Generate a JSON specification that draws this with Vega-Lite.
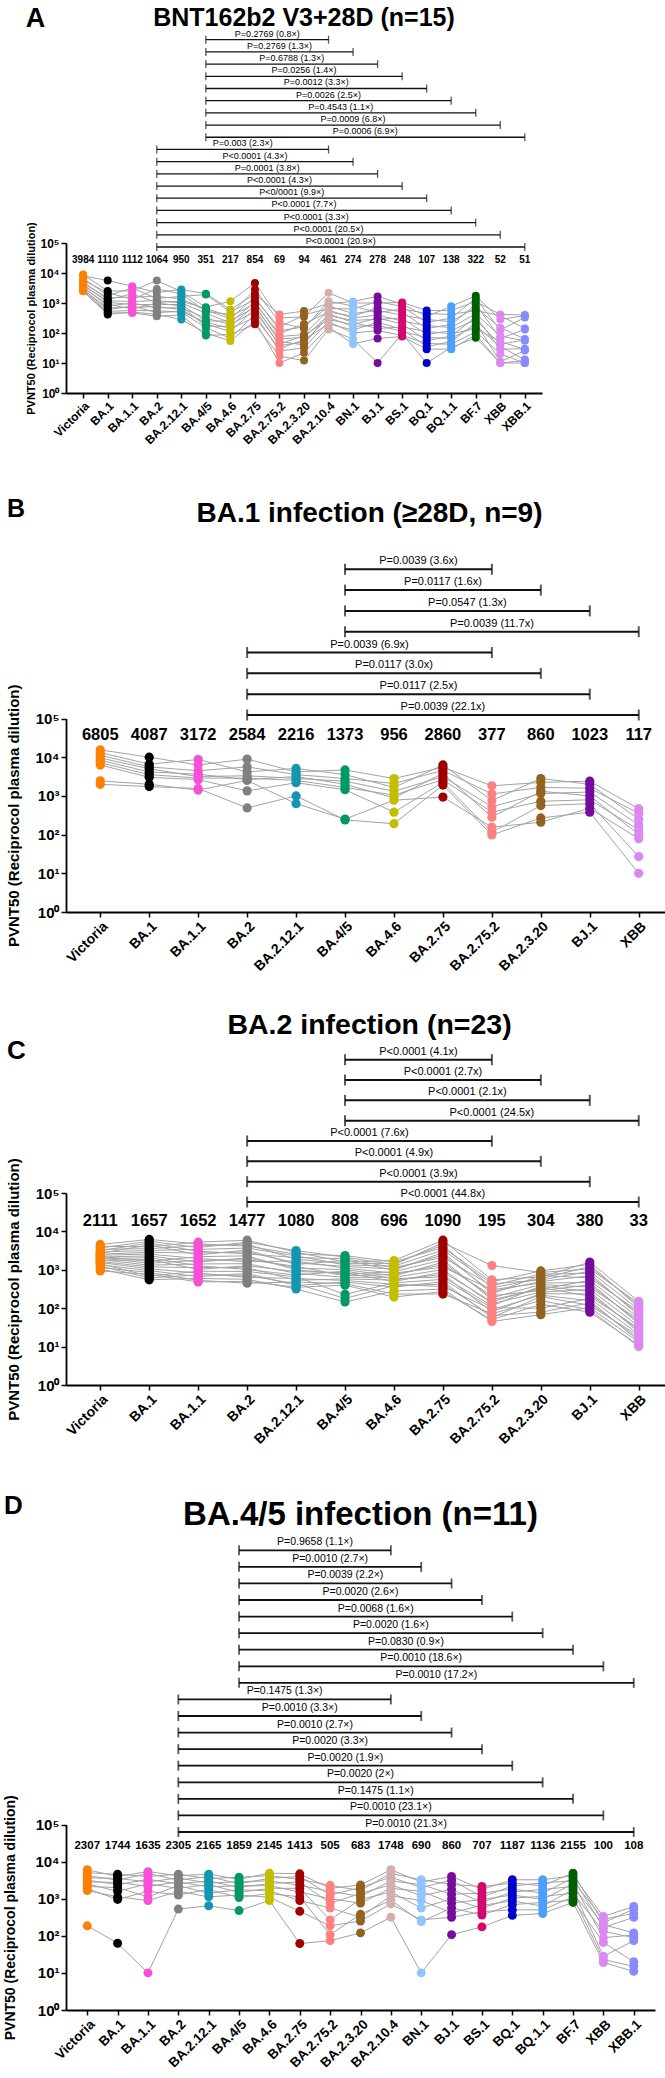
{
"$schema":"https://vega.github.io/schema/vega-lite/v6.json",
"background":"white",
"padding":{"left":3,"top":5,"right":0,"bottom":0},
"config":{"view":{"stroke":null},"font":"Liberation Sans",
"axis":{"domainColor":"#000","domainWidth":1.8,"tickColor":"#000","tickWidth":1.5,"tickSize":5,"labelColor":"#000","titleColor":"#000","grid":false,"labelFontWeight":"bold","titleFontWeight":"bold","labelFont":"Liberation Sans","titleFont":"Liberation Sans"},
"title":{"font":"Liberation Sans","fontWeight":"bold","color":"#000"},
"text":{"font":"Liberation Sans","color":"#000"}},
"datasets":{
"pA":[
{"s":1,"v":"Victoria","p":8913},{"s":2,"v":"Victoria","p":7943},{"s":3,"v":"Victoria","p":6607},{"s":4,"v":"Victoria","p":5623},{"s":5,"v":"Victoria","p":5012},{"s":6,"v":"Victoria","p":4571},{"s":7,"v":"Victoria","p":4169},{"s":8,"v":"Victoria","p":3802},{"s":9,"v":"Victoria","p":3467},{"s":10,"v":"Victoria","p":3162},{"s":11,"v":"Victoria","p":2884},{"s":12,"v":"Victoria","p":2692},{"s":13,"v":"Victoria","p":2570},{"s":14,"v":"Victoria","p":2512},{"s":15,"v":"Victoria","p":2455},
{"s":1,"v":"BA.1","p":2512},{"s":2,"v":"BA.1","p":5623},{"s":3,"v":"BA.1","p":1778},{"s":4,"v":"BA.1","p":2239},{"s":5,"v":"BA.1","p":1318},{"s":6,"v":"BA.1","p":1479},{"s":7,"v":"BA.1","p":1047},{"s":8,"v":"BA.1","p":1175},{"s":9,"v":"BA.1","p":794},{"s":10,"v":"BA.1","p":912},{"s":11,"v":"BA.1","p":603},{"s":12,"v":"BA.1","p":692},{"s":13,"v":"BA.1","p":468},{"s":14,"v":"BA.1","p":525},{"s":15,"v":"BA.1","p":417},
{"s":1,"v":"BA.1.1","p":2512},{"s":2,"v":"BA.1.1","p":3631},{"s":3,"v":"BA.1.1","p":3162},{"s":4,"v":"BA.1.1","p":1318},{"s":5,"v":"BA.1.1","p":1995},{"s":6,"v":"BA.1.1","p":1585},{"s":7,"v":"BA.1.1","p":891},{"s":8,"v":"BA.1.1","p":1122},{"s":9,"v":"BA.1.1","p":1000},{"s":10,"v":"BA.1.1","p":631},{"s":11,"v":"BA.1.1","p":794},{"s":12,"v":"BA.1.1","p":708},{"s":13,"v":"BA.1.1","p":468},{"s":14,"v":"BA.1.1","p":562},{"s":15,"v":"BA.1.1","p":501},
{"s":1,"v":"BA.2","p":5623},{"s":2,"v":"BA.2","p":2239},{"s":3,"v":"BA.2","p":1413},{"s":4,"v":"BA.2","p":2951},{"s":5,"v":"BA.2","p":1047},{"s":6,"v":"BA.2","p":1660},{"s":7,"v":"BA.2","p":891},{"s":8,"v":"BA.2","p":1202},{"s":9,"v":"BA.2","p":692},{"s":10,"v":"BA.2","p":1000},{"s":11,"v":"BA.2","p":479},{"s":12,"v":"BA.2","p":759},{"s":13,"v":"BA.2","p":363},{"s":14,"v":"BA.2","p":550},{"s":15,"v":"BA.2","p":417},
{"s":1,"v":"BA.2.12.1","p":2399},{"s":2,"v":"BA.2.12.1","p":2818},{"s":3,"v":"BA.2.12.1","p":1660},{"s":4,"v":"BA.2.12.1","p":1995},{"s":5,"v":"BA.2.12.1","p":1148},{"s":6,"v":"BA.2.12.1","p":1380},{"s":7,"v":"BA.2.12.1","p":891},{"s":8,"v":"BA.2.12.1","p":1000},{"s":9,"v":"BA.2.12.1","p":692},{"s":10,"v":"BA.2.12.1","p":794},{"s":11,"v":"BA.2.12.1","p":525},{"s":12,"v":"BA.2.12.1","p":603},{"s":13,"v":"BA.2.12.1","p":398},{"s":14,"v":"BA.2.12.1","p":501},{"s":15,"v":"BA.2.12.1","p":282},
{"s":1,"v":"BA.4/5","p":724},{"s":2,"v":"BA.4/5","p":2042},{"s":3,"v":"BA.4/5","p":1905},{"s":4,"v":"BA.4/5","p":525},{"s":5,"v":"BA.4/5","p":661},{"s":6,"v":"BA.4/5","p":575},{"s":7,"v":"BA.4/5","p":251},{"s":8,"v":"BA.4/5","p":457},{"s":9,"v":"BA.4/5","p":316},{"s":10,"v":"BA.4/5","p":166},{"s":11,"v":"BA.4/5","p":229},{"s":12,"v":"BA.4/5","p":200},{"s":13,"v":"BA.4/5","p":83},{"s":14,"v":"BA.4/5","p":151},{"s":15,"v":"BA.4/5","p":100},
{"s":1,"v":"BA.4.6","p":1148},{"s":2,"v":"BA.4.6","p":603},{"s":3,"v":"BA.4.6","p":501},{"s":4,"v":"BA.4.6","p":417},{"s":5,"v":"BA.4.6","p":355},{"s":6,"v":"BA.4.6","p":302},{"s":7,"v":"BA.4.6","p":251},{"s":8,"v":"BA.4.6","p":219},{"s":9,"v":"BA.4.6","p":191},{"s":10,"v":"BA.4.6","p":170},{"s":11,"v":"BA.4.6","p":141},{"s":12,"v":"BA.4.6","p":112},{"s":13,"v":"BA.4.6","p":89},{"s":14,"v":"BA.4.6","p":66},{"s":15,"v":"BA.4.6","p":54},
{"s":1,"v":"BA.2.75","p":4677},{"s":2,"v":"BA.2.75","p":1995},{"s":3,"v":"BA.2.75","p":1318},{"s":4,"v":"BA.2.75","p":2818},{"s":5,"v":"BA.2.75","p":955},{"s":6,"v":"BA.2.75","p":1585},{"s":7,"v":"BA.2.75","p":724},{"s":8,"v":"BA.2.75","p":1122},{"s":9,"v":"BA.2.75","p":525},{"s":10,"v":"BA.2.75","p":832},{"s":11,"v":"BA.2.75","p":331},{"s":12,"v":"BA.2.75","p":631},{"s":13,"v":"BA.2.75","p":195},{"s":14,"v":"BA.2.75","p":417},{"s":15,"v":"BA.2.75","p":251},
{"s":1,"v":"BA.2.75.2","p":316},{"s":2,"v":"BA.2.75.2","p":417},{"s":3,"v":"BA.2.75.2","p":158},{"s":4,"v":"BA.2.75.2","p":224},{"s":5,"v":"BA.2.75.2","p":95},{"s":6,"v":"BA.2.75.2","p":120},{"s":7,"v":"BA.2.75.2","p":63},{"s":8,"v":"BA.2.75.2","p":76},{"s":9,"v":"BA.2.75.2","p":42},{"s":10,"v":"BA.2.75.2","p":52},{"s":11,"v":"BA.2.75.2","p":30},{"s":12,"v":"BA.2.75.2","p":38},{"s":13,"v":"BA.2.75.2","p":17},{"s":14,"v":"BA.2.75.2","p":25},{"s":15,"v":"BA.2.75.2","p":10},
{"s":1,"v":"BA.2.3.20","p":347},{"s":2,"v":"BA.2.3.20","p":537},{"s":3,"v":"BA.2.3.20","p":398},{"s":4,"v":"BA.2.3.20","p":141},{"s":5,"v":"BA.2.3.20","p":200},{"s":6,"v":"BA.2.3.20","p":158},{"s":7,"v":"BA.2.3.20","p":72},{"s":8,"v":"BA.2.3.20","p":89},{"s":9,"v":"BA.2.3.20","p":83},{"s":10,"v":"BA.2.3.20","p":40},{"s":11,"v":"BA.2.3.20","p":60},{"s":12,"v":"BA.2.3.20","p":50},{"s":13,"v":"BA.2.3.20","p":12},{"s":14,"v":"BA.2.3.20","p":32},{"s":15,"v":"BA.2.3.20","p":22},
{"s":1,"v":"BA.2.10.4","p":2188},{"s":2,"v":"BA.2.10.4","p":955},{"s":3,"v":"BA.2.10.4","p":661},{"s":4,"v":"BA.2.10.4","p":1148},{"s":5,"v":"BA.2.10.4","p":501},{"s":6,"v":"BA.2.10.4","p":794},{"s":7,"v":"BA.2.10.4","p":380},{"s":8,"v":"BA.2.10.4","p":575},{"s":9,"v":"BA.2.10.4","p":282},{"s":10,"v":"BA.2.10.4","p":437},{"s":11,"v":"BA.2.10.4","p":200},{"s":12,"v":"BA.2.10.4","p":331},{"s":13,"v":"BA.2.10.4","p":132},{"s":14,"v":"BA.2.10.4","p":240},{"s":15,"v":"BA.2.10.4","p":158},
{"s":1,"v":"BN.1","p":1000},{"s":2,"v":"BN.1","p":1122},{"s":3,"v":"BN.1","p":631},{"s":4,"v":"BN.1","p":794},{"s":5,"v":"BN.1","p":363},{"s":6,"v":"BN.1","p":447},{"s":7,"v":"BN.1","p":263},{"s":8,"v":"BN.1","p":316},{"s":9,"v":"BN.1","p":191},{"s":10,"v":"BN.1","p":224},{"s":11,"v":"BN.1","p":126},{"s":12,"v":"BN.1","p":166},{"s":13,"v":"BN.1","p":63},{"s":14,"v":"BN.1","p":100},{"s":15,"v":"BN.1","p":43},
{"s":1,"v":"BJ.1","p":1000},{"s":2,"v":"BJ.1","p":1660},{"s":3,"v":"BJ.1","p":1122},{"s":4,"v":"BJ.1","p":479},{"s":5,"v":"BJ.1","p":708},{"s":6,"v":"BJ.1","p":562},{"s":7,"v":"BJ.1","p":288},{"s":8,"v":"BJ.1","p":398},{"s":9,"v":"BJ.1","p":316},{"s":10,"v":"BJ.1","p":141},{"s":11,"v":"BJ.1","p":229},{"s":12,"v":"BJ.1","p":182},{"s":13,"v":"BJ.1","p":10},{"s":14,"v":"BJ.1","p":120},{"s":15,"v":"BJ.1","p":66},
{"s":1,"v":"BS.1","p":1047},{"s":2,"v":"BS.1","p":912},{"s":3,"v":"BS.1","p":759},{"s":4,"v":"BS.1","p":631},{"s":5,"v":"BS.1","p":501},{"s":6,"v":"BS.1","p":398},{"s":7,"v":"BS.1","p":316},{"s":8,"v":"BS.1","p":251},{"s":9,"v":"BS.1","p":200},{"s":10,"v":"BS.1","p":158},{"s":11,"v":"BS.1","p":132},{"s":12,"v":"BS.1","p":112},{"s":13,"v":"BS.1","p":95},{"s":14,"v":"BS.1","p":83},{"s":15,"v":"BS.1","p":76},
{"s":1,"v":"BQ.1","p":562},{"s":2,"v":"BQ.1","p":355},{"s":3,"v":"BQ.1","p":224},{"s":4,"v":"BQ.1","p":447},{"s":5,"v":"BQ.1","p":141},{"s":6,"v":"BQ.1","p":282},{"s":7,"v":"BQ.1","p":89},{"s":8,"v":"BQ.1","p":178},{"s":9,"v":"BQ.1","p":56},{"s":10,"v":"BQ.1","p":112},{"s":11,"v":"BQ.1","p":35},{"s":12,"v":"BQ.1","p":71},{"s":13,"v":"BQ.1","p":10},{"s":14,"v":"BQ.1","p":45},{"s":15,"v":"BQ.1","p":29},
{"s":1,"v":"BQ.1.1","p":562},{"s":2,"v":"BQ.1.1","p":776},{"s":3,"v":"BQ.1.1","p":316},{"s":4,"v":"BQ.1.1","p":417},{"s":5,"v":"BQ.1.1","p":191},{"s":6,"v":"BQ.1.1","p":240},{"s":7,"v":"BQ.1.1","p":120},{"s":8,"v":"BQ.1.1","p":151},{"s":9,"v":"BQ.1.1","p":79},{"s":10,"v":"BQ.1.1","p":95},{"s":11,"v":"BQ.1.1","p":52},{"s":12,"v":"BQ.1.1","p":66},{"s":13,"v":"BQ.1.1","p":33},{"s":14,"v":"BQ.1.1","p":42},{"s":15,"v":"BQ.1.1","p":29},
{"s":1,"v":"BF.7","p":1122},{"s":2,"v":"BF.7","p":1738},{"s":3,"v":"BF.7","p":1413},{"s":4,"v":"BF.7","p":562},{"s":5,"v":"BF.7","p":891},{"s":6,"v":"BF.7","p":708},{"s":7,"v":"BF.7","p":275},{"s":8,"v":"BF.7","p":437},{"s":9,"v":"BF.7","p":347},{"s":10,"v":"BF.7","p":138},{"s":11,"v":"BF.7","p":219},{"s":12,"v":"BF.7","p":174},{"s":13,"v":"BF.7","p":69},{"s":14,"v":"BF.7","p":110},{"s":15,"v":"BF.7","p":87},
{"s":1,"v":"XBB","p":417},{"s":2,"v":"XBB","p":282},{"s":3,"v":"XBB","p":126},{"s":4,"v":"XBB","p":380},{"s":5,"v":"XBB","p":66},{"s":6,"v":"XBB","p":151},{"s":7,"v":"XBB","p":42},{"s":8,"v":"XBB","p":79},{"s":9,"v":"XBB","p":29},{"s":10,"v":"XBB","p":52},{"s":11,"v":"XBB","p":11},{"s":12,"v":"XBB","p":35},{"s":13,"v":"XBB","p":10},{"s":14,"v":"XBB","p":20},{"s":15,"v":"XBB","p":10},
{"s":1,"v":"XBB.1","p":398},{"s":2,"v":"XBB.1","p":380},{"s":3,"v":"XBB.1","p":331},{"s":4,"v":"XBB.1","p":141},{"s":5,"v":"XBB.1","p":132},{"s":6,"v":"XBB.1","p":63},{"s":7,"v":"XBB.1","p":59},{"s":8,"v":"XBB.1","p":55},{"s":9,"v":"XBB.1","p":30},{"s":10,"v":"XBB.1","p":28},{"s":11,"v":"XBB.1","p":26},{"s":12,"v":"XBB.1","p":13},{"s":13,"v":"XBB.1","p":12},{"s":14,"v":"XBB.1","p":10},{"s":15,"v":"XBB.1","p":10}
],
"gA":[{"v":"Victoria","g":"3984"},{"v":"BA.1","g":"1110"},{"v":"BA.1.1","g":"1112"},{"v":"BA.2","g":"1064"},{"v":"BA.2.12.1","g":"950"},{"v":"BA.4/5","g":"351"},{"v":"BA.4.6","g":"217"},{"v":"BA.2.75","g":"854"},{"v":"BA.2.75.2","g":"69"},{"v":"BA.2.3.20","g":"94"},{"v":"BA.2.10.4","g":"461"},{"v":"BN.1","g":"274"},{"v":"BJ.1","g":"278"},{"v":"BS.1","g":"248"},{"v":"BQ.1","g":"107"},{"v":"BQ.1.1","g":"138"},{"v":"BF.7","g":"322"},{"v":"XBB","g":"52"},{"v":"XBB.1","g":"51"}],
"bA":[
{"k":1,"from":"BA.4/5","to":"BA.2.10.4","label":"P=0.2769 (0.8×)"},{"k":2,"from":"BA.4/5","to":"BN.1","label":"P=0.2769 (1.3×)"},{"k":3,"from":"BA.4/5","to":"BJ.1","label":"P=0.6788 (1.3×)"},{"k":4,"from":"BA.4/5","to":"BS.1","label":"P=0.0256 (1.4×)"},{"k":5,"from":"BA.4/5","to":"BQ.1","label":"P=0.0012 (3.3×)"},{"k":6,"from":"BA.4/5","to":"BQ.1.1","label":"P=0.0026 (2.5×)"},{"k":7,"from":"BA.4/5","to":"BF.7","label":"P=0.4543 (1.1×)"},{"k":8,"from":"BA.4/5","to":"XBB","label":"P=0.0009 (6.8×)"},{"k":9,"from":"BA.4/5","to":"XBB.1","label":"P=0.0006 (6.9×)"},
{"k":10,"from":"BA.2","to":"BA.2.10.4","label":"P=0.003 (2.3×)"},{"k":11,"from":"BA.2","to":"BN.1","label":"P<0.0001 (4.3×)"},{"k":12,"from":"BA.2","to":"BJ.1","label":"P=0.0001 (3.8×)"},{"k":13,"from":"BA.2","to":"BS.1","label":"P<0.0001 (4.3×)"},{"k":14,"from":"BA.2","to":"BQ.1","label":"P<0/0001 (9.9×)"},{"k":15,"from":"BA.2","to":"BQ.1.1","label":"P<0.0001 (7.7×)"},{"k":16,"from":"BA.2","to":"BF.7","label":"P<0.0001 (3.3×)"},{"k":17,"from":"BA.2","to":"XBB","label":"P<0.0001 (20.5×)"},{"k":18,"from":"BA.2","to":"XBB.1","label":"P<0.0001 (20.9×)"}
],
"pB":[
{"s":1,"v":"Victoria","p":15488},{"s":2,"v":"Victoria","p":13183},{"s":3,"v":"Victoria","p":11220},{"s":4,"v":"Victoria","p":9550},{"s":5,"v":"Victoria","p":8318},{"s":6,"v":"Victoria","p":7244},{"s":7,"v":"Victoria","p":6310},{"s":8,"v":"Victoria","p":2455},{"s":9,"v":"Victoria","p":1995},
{"s":1,"v":"BA.1","p":10000},{"s":2,"v":"BA.1","p":6607},{"s":3,"v":"BA.1","p":5623},{"s":4,"v":"BA.1","p":5012},{"s":5,"v":"BA.1","p":4169},{"s":6,"v":"BA.1","p":3548},{"s":7,"v":"BA.1","p":3020},{"s":8,"v":"BA.1","p":1995},{"s":9,"v":"BA.1","p":1738},
{"s":1,"v":"BA.1.1","p":6310},{"s":2,"v":"BA.1.1","p":8710},{"s":3,"v":"BA.1.1","p":4467},{"s":4,"v":"BA.1.1","p":3162},{"s":5,"v":"BA.1.1","p":3631},{"s":6,"v":"BA.1.1","p":2884},{"s":7,"v":"BA.1.1","p":2630},{"s":8,"v":"BA.1.1","p":1413},{"s":9,"v":"BA.1.1","p":1549},
{"s":1,"v":"BA.2","p":8913},{"s":2,"v":"BA.2","p":4169},{"s":3,"v":"BA.2","p":5623},{"s":4,"v":"BA.2","p":3311},{"s":5,"v":"BA.2","p":2630},{"s":6,"v":"BA.2","p":2884},{"s":7,"v":"BA.2","p":1349},{"s":8,"v":"BA.2","p":2512},{"s":9,"v":"BA.2","p":490},
{"s":1,"v":"BA.2.12.1","p":4169},{"s":2,"v":"BA.2.12.1","p":5129},{"s":3,"v":"BA.2.12.1","p":3548},{"s":4,"v":"BA.2.12.1","p":2818},{"s":5,"v":"BA.2.12.1","p":3162},{"s":6,"v":"BA.2.12.1","p":2512},{"s":7,"v":"BA.2.12.1","p":2188},{"s":8,"v":"BA.2.12.1","p":631},{"s":9,"v":"BA.2.12.1","p":1000},
{"s":1,"v":"BA.4/5","p":4677},{"s":2,"v":"BA.4/5","p":3548},{"s":3,"v":"BA.4/5","p":2818},{"s":4,"v":"BA.4/5","p":2399},{"s":5,"v":"BA.4/5","p":1995},{"s":6,"v":"BA.4/5","p":1660},{"s":7,"v":"BA.4/5","p":1445},{"s":8,"v":"BA.4/5","p":251},{"s":9,"v":"BA.4/5","p":240},
{"s":1,"v":"BA.4.6","p":2818},{"s":2,"v":"BA.4.6","p":1660},{"s":3,"v":"BA.4.6","p":2089},{"s":4,"v":"BA.4.6","p":1318},{"s":5,"v":"BA.4.6","p":891},{"s":6,"v":"BA.4.6","p":1047},{"s":7,"v":"BA.4.6","p":380},{"s":8,"v":"BA.4.6","p":776},{"s":9,"v":"BA.4.6","p":191},
{"s":1,"v":"BA.2.75","p":5495},{"s":2,"v":"BA.2.75","p":6310},{"s":3,"v":"BA.2.75","p":4571},{"s":4,"v":"BA.2.75","p":3162},{"s":5,"v":"BA.2.75","p":3802},{"s":6,"v":"BA.2.75","p":2630},{"s":7,"v":"BA.2.75","p":2239},{"s":8,"v":"BA.2.75","p":933},{"s":9,"v":"BA.2.75","p":1905},
{"s":1,"v":"BA.2.75.2","p":1820},{"s":2,"v":"BA.2.75.2","p":759},{"s":3,"v":"BA.2.75.2","p":1122},{"s":4,"v":"BA.2.75.2","p":525},{"s":5,"v":"BA.2.75.2","p":282},{"s":6,"v":"BA.2.75.2","p":380},{"s":7,"v":"BA.2.75.2","p":115},{"s":8,"v":"BA.2.75.2","p":155},{"s":9,"v":"BA.2.75.2","p":98},
{"s":1,"v":"BA.2.3.20","p":2239},{"s":2,"v":"BA.2.3.20","p":2818},{"s":3,"v":"BA.2.3.20","p":1660},{"s":4,"v":"BA.2.3.20","p":1148},{"s":5,"v":"BA.2.3.20","p":1318},{"s":6,"v":"BA.2.3.20","p":724},{"s":7,"v":"BA.2.3.20","p":562},{"s":8,"v":"BA.2.3.20","p":209},{"s":9,"v":"BA.2.3.20","p":269},
{"s":1,"v":"BJ.1","p":2399},{"s":2,"v":"BJ.1","p":1995},{"s":3,"v":"BJ.1","p":1585},{"s":4,"v":"BJ.1","p":1259},{"s":5,"v":"BJ.1","p":1000},{"s":6,"v":"BJ.1","p":794},{"s":7,"v":"BJ.1","p":631},{"s":8,"v":"BJ.1","p":479},{"s":9,"v":"BJ.1","p":380},
{"s":1,"v":"XBB","p":468},{"s":2,"v":"XBB","p":251},{"s":3,"v":"XBB","p":355},{"s":4,"v":"XBB","p":178},{"s":5,"v":"XBB","p":100},{"s":6,"v":"XBB","p":132},{"s":7,"v":"XBB","p":27},{"s":8,"v":"XBB","p":78},{"s":9,"v":"XBB","p":10}
],
"gB":[{"v":"Victoria","g":"6805"},{"v":"BA.1","g":"4087"},{"v":"BA.1.1","g":"3172"},{"v":"BA.2","g":"2584"},{"v":"BA.2.12.1","g":"2216"},{"v":"BA.4/5","g":"1373"},{"v":"BA.4.6","g":"956"},{"v":"BA.2.75","g":"2860"},{"v":"BA.2.75.2","g":"377"},{"v":"BA.2.3.20","g":"860"},{"v":"BJ.1","g":"1023"},{"v":"XBB","g":"117"}],
"bB":[
{"k":1,"from":"BA.4/5","to":"BA.2.75.2","label":"P=0.0039 (3.6x)"},{"k":2,"from":"BA.4/5","to":"BA.2.3.20","label":"P=0.0117 (1.6x)"},{"k":3,"from":"BA.4/5","to":"BJ.1","label":"P=0.0547 (1.3x)"},{"k":4,"from":"BA.4/5","to":"XBB","label":"P=0.0039 (11.7x)"},
{"k":5,"from":"BA.2","to":"BA.2.75.2","label":"P=0.0039 (6.9x)"},{"k":6,"from":"BA.2","to":"BA.2.3.20","label":"P=0.0117 (3.0x)"},{"k":7,"from":"BA.2","to":"BJ.1","label":"P=0.0117 (2.5x)"},{"k":8,"from":"BA.2","to":"XBB","label":"P=0.0039 (22.1x)"}
],
"pC":[
{"s":1,"v":"Victoria","p":4571},{"s":2,"v":"Victoria","p":4100},{"s":3,"v":"Victoria","p":3700},{"s":4,"v":"Victoria","p":3400},{"s":5,"v":"Victoria","p":3150},{"s":6,"v":"Victoria","p":2900},{"s":7,"v":"Victoria","p":2700},{"s":8,"v":"Victoria","p":2550},{"s":9,"v":"Victoria","p":2400},{"s":10,"v":"Victoria","p":2250},{"s":11,"v":"Victoria","p":2150},{"s":12,"v":"Victoria","p":2050},{"s":13,"v":"Victoria","p":1950},{"s":14,"v":"Victoria","p":1850},{"s":15,"v":"Victoria","p":1750},{"s":16,"v":"Victoria","p":1650},{"s":17,"v":"Victoria","p":1550},{"s":18,"v":"Victoria","p":1450},{"s":19,"v":"Victoria","p":1350},{"s":20,"v":"Victoria","p":1250},{"s":21,"v":"Victoria","p":1150},{"s":22,"v":"Victoria","p":1050},{"s":23,"v":"Victoria","p":933},
{"s":1,"v":"BA.1","p":6170},{"s":2,"v":"BA.1","p":3970},{"s":3,"v":"BA.1","p":5520},{"s":4,"v":"BA.1","p":3560},{"s":5,"v":"BA.1","p":4950},{"s":6,"v":"BA.1","p":3190},{"s":7,"v":"BA.1","p":4440},{"s":8,"v":"BA.1","p":2860},{"s":9,"v":"BA.1","p":2560},{"s":10,"v":"BA.1","p":1650},{"s":11,"v":"BA.1","p":2300},{"s":12,"v":"BA.1","p":1480},{"s":13,"v":"BA.1","p":2060},{"s":14,"v":"BA.1","p":1320},{"s":15,"v":"BA.1","p":1840},{"s":16,"v":"BA.1","p":1190},{"s":17,"v":"BA.1","p":1060},{"s":18,"v":"BA.1","p":684},{"s":19,"v":"BA.1","p":953},{"s":20,"v":"BA.1","p":614},{"s":21,"v":"BA.1","p":853},{"s":22,"v":"BA.1","p":550},{"s":23,"v":"BA.1","p":764},
{"s":1,"v":"BA.1.1","p":4710},{"s":2,"v":"BA.1.1","p":5248},{"s":3,"v":"BA.1.1","p":3784},{"s":4,"v":"BA.1.1","p":4217},{"s":5,"v":"BA.1.1","p":3048},{"s":6,"v":"BA.1.1","p":3396},{"s":7,"v":"BA.1.1","p":2449},{"s":8,"v":"BA.1.1","p":2729},{"s":9,"v":"BA.1.1","p":1968},{"s":10,"v":"BA.1.1","p":2198},{"s":11,"v":"BA.1.1","p":1585},{"s":12,"v":"BA.1.1","p":1766},{"s":13,"v":"BA.1.1","p":1274},{"s":14,"v":"BA.1.1","p":1422},{"s":15,"v":"BA.1.1","p":1026},{"s":16,"v":"BA.1.1","p":1143},{"s":17,"v":"BA.1.1","p":824},{"s":18,"v":"BA.1.1","p":920},{"s":19,"v":"BA.1.1","p":664},{"s":20,"v":"BA.1.1","p":740},{"s":21,"v":"BA.1.1","p":533},{"s":22,"v":"BA.1.1","p":596},{"s":23,"v":"BA.1.1","p":479},
{"s":1,"v":"BA.2","p":4140},{"s":2,"v":"BA.2","p":5888},{"s":3,"v":"BA.2","p":5236},{"s":4,"v":"BA.2","p":4656},{"s":5,"v":"BA.2","p":2594},{"s":6,"v":"BA.2","p":3681},{"s":7,"v":"BA.2","p":3273},{"s":8,"v":"BA.2","p":2917},{"s":9,"v":"BA.2","p":1622},{"s":10,"v":"BA.2","p":2307},{"s":11,"v":"BA.2","p":2051},{"s":12,"v":"BA.2","p":1824},{"s":13,"v":"BA.2","p":1014},{"s":14,"v":"BA.2","p":1442},{"s":15,"v":"BA.2","p":1282},{"s":16,"v":"BA.2","p":1140},{"s":17,"v":"BA.2","p":635},{"s":18,"v":"BA.2","p":902},{"s":19,"v":"BA.2","p":804},{"s":20,"v":"BA.2","p":714},{"s":21,"v":"BA.2","p":447},{"s":22,"v":"BA.2","p":565},{"s":23,"v":"BA.2","p":502},
{"s":1,"v":"BA.2.12.1","p":2564},{"s":2,"v":"BA.2.12.1","p":2851},{"s":3,"v":"BA.2.12.1","p":3162},{"s":4,"v":"BA.2.12.1","p":1875},{"s":5,"v":"BA.2.12.1","p":2080},{"s":6,"v":"BA.2.12.1","p":2312},{"s":7,"v":"BA.2.12.1","p":1368},{"s":8,"v":"BA.2.12.1","p":1521},{"s":9,"v":"BA.2.12.1","p":1687},{"s":10,"v":"BA.2.12.1","p":1000},{"s":11,"v":"BA.2.12.1","p":1109},{"s":12,"v":"BA.2.12.1","p":1233},{"s":13,"v":"BA.2.12.1","p":731},{"s":14,"v":"BA.2.12.1","p":811},{"s":15,"v":"BA.2.12.1","p":902},{"s":16,"v":"BA.2.12.1","p":533},{"s":17,"v":"BA.2.12.1","p":593},{"s":18,"v":"BA.2.12.1","p":658},{"s":19,"v":"BA.2.12.1","p":390},{"s":20,"v":"BA.2.12.1","p":433},{"s":21,"v":"BA.2.12.1","p":481},{"s":22,"v":"BA.2.12.1","p":316},{"s":23,"v":"BA.2.12.1","p":351},
{"s":1,"v":"BA.4/5","p":2344},{"s":2,"v":"BA.4/5","p":1614},{"s":3,"v":"BA.4/5","p":2133},{"s":4,"v":"BA.4/5","p":1469},{"s":5,"v":"BA.4/5","p":1945},{"s":6,"v":"BA.4/5","p":1340},{"s":7,"v":"BA.4/5","p":1770},{"s":8,"v":"BA.4/5","p":1219},{"s":9,"v":"BA.4/5","p":1112},{"s":10,"v":"BA.4/5","p":766},{"s":11,"v":"BA.4/5","p":1012},{"s":12,"v":"BA.4/5","p":697},{"s":13,"v":"BA.4/5","p":923},{"s":14,"v":"BA.4/5","p":635},{"s":15,"v":"BA.4/5","p":839},{"s":16,"v":"BA.4/5","p":578},{"s":17,"v":"BA.4/5","p":527},{"s":18,"v":"BA.4/5","p":229},{"s":19,"v":"BA.4/5","p":480},{"s":20,"v":"BA.4/5","p":180},{"s":21,"v":"BA.4/5","p":438},{"s":22,"v":"BA.4/5","p":145},{"s":23,"v":"BA.4/5","p":398},
{"s":1,"v":"BA.4.6","p":1600},{"s":2,"v":"BA.4.6","p":1738},{"s":3,"v":"BA.4.6","p":1352},{"s":4,"v":"BA.4.6","p":1469},{"s":5,"v":"BA.4.6","p":1143},{"s":6,"v":"BA.4.6","p":1245},{"s":7,"v":"BA.4.6","p":968},{"s":8,"v":"BA.4.6","p":1052},{"s":9,"v":"BA.4.6","p":818},{"s":10,"v":"BA.4.6","p":889},{"s":11,"v":"BA.4.6","p":693},{"s":12,"v":"BA.4.6","p":753},{"s":13,"v":"BA.4.6","p":586},{"s":14,"v":"BA.4.6","p":637},{"s":15,"v":"BA.4.6","p":495},{"s":16,"v":"BA.4.6","p":540},{"s":17,"v":"BA.4.6","p":420},{"s":18,"v":"BA.4.6","p":456},{"s":19,"v":"BA.4.6","p":355},{"s":20,"v":"BA.4.6","p":385},{"s":21,"v":"BA.4.6","p":234},{"s":22,"v":"BA.4.6","p":282},{"s":23,"v":"BA.4.6","p":195},
{"s":1,"v":"BA.2.75","p":3793},{"s":2,"v":"BA.2.75","p":5888},{"s":3,"v":"BA.2.75","p":5082},{"s":4,"v":"BA.2.75","p":4395},{"s":5,"v":"BA.2.75","p":2113},{"s":6,"v":"BA.2.75","p":3273},{"s":7,"v":"BA.2.75","p":2831},{"s":8,"v":"BA.2.75","p":2443},{"s":9,"v":"BA.2.75","p":1175},{"s":10,"v":"BA.2.75","p":1824},{"s":11,"v":"BA.2.75","p":1574},{"s":12,"v":"BA.2.75","p":1361},{"s":13,"v":"BA.2.75","p":653},{"s":14,"v":"BA.2.75","p":1014},{"s":15,"v":"BA.2.75","p":877},{"s":16,"v":"BA.2.75","p":757},{"s":17,"v":"BA.2.75","p":364},{"s":18,"v":"BA.2.75","p":565},{"s":19,"v":"BA.2.75","p":488},{"s":20,"v":"BA.2.75","p":421},{"s":21,"v":"BA.2.75","p":234},{"s":22,"v":"BA.2.75","p":314},{"s":23,"v":"BA.2.75","p":272},
{"s":1,"v":"BA.2.75.2","p":488},{"s":2,"v":"BA.2.75.2","p":550},{"s":3,"v":"BA.2.75.2","p":1288},{"s":4,"v":"BA.2.75.2","p":340},{"s":5,"v":"BA.2.75.2","p":384},{"s":6,"v":"BA.2.75.2","p":433},{"s":7,"v":"BA.2.75.2","p":238},{"s":8,"v":"BA.2.75.2","p":269},{"s":9,"v":"BA.2.75.2","p":303},{"s":10,"v":"BA.2.75.2","p":166},{"s":11,"v":"BA.2.75.2","p":187},{"s":12,"v":"BA.2.75.2","p":211},{"s":13,"v":"BA.2.75.2","p":116},{"s":14,"v":"BA.2.75.2","p":131},{"s":15,"v":"BA.2.75.2","p":148},{"s":16,"v":"BA.2.75.2","p":81},{"s":17,"v":"BA.2.75.2","p":92},{"s":18,"v":"BA.2.75.2","p":103},{"s":19,"v":"BA.2.75.2","p":57},{"s":20,"v":"BA.2.75.2","p":64},{"s":21,"v":"BA.2.75.2","p":72},{"s":22,"v":"BA.2.75.2","p":45},{"s":23,"v":"BA.2.75.2","p":50},
{"s":1,"v":"BA.2.3.20","p":933},{"s":2,"v":"BA.2.3.20","p":649},{"s":3,"v":"BA.2.3.20","p":853},{"s":4,"v":"BA.2.3.20","p":593},{"s":5,"v":"BA.2.3.20","p":778},{"s":6,"v":"BA.2.3.20","p":541},{"s":7,"v":"BA.2.3.20","p":711},{"s":8,"v":"BA.2.3.20","p":494},{"s":9,"v":"BA.2.3.20","p":452},{"s":10,"v":"BA.2.3.20","p":314},{"s":11,"v":"BA.2.3.20","p":412},{"s":12,"v":"BA.2.3.20","p":287},{"s":13,"v":"BA.2.3.20","p":377},{"s":14,"v":"BA.2.3.20","p":262},{"s":15,"v":"BA.2.3.20","p":344},{"s":16,"v":"BA.2.3.20","p":239},{"s":17,"v":"BA.2.3.20","p":218},{"s":18,"v":"BA.2.3.20","p":100},{"s":19,"v":"BA.2.3.20","p":200},{"s":20,"v":"BA.2.3.20","p":79},{"s":21,"v":"BA.2.3.20","p":158},{"s":22,"v":"BA.2.3.20","p":68},{"s":23,"v":"BA.2.3.20","p":126},
{"s":1,"v":"BJ.1","p":1384},{"s":2,"v":"BJ.1","p":1585},{"s":3,"v":"BJ.1","p":1054},{"s":4,"v":"BJ.1","p":1208},{"s":5,"v":"BJ.1","p":804},{"s":6,"v":"BJ.1","p":920},{"s":7,"v":"BJ.1","p":611},{"s":8,"v":"BJ.1","p":700},{"s":9,"v":"BJ.1","p":466},{"s":10,"v":"BJ.1","p":533},{"s":11,"v":"BJ.1","p":355},{"s":12,"v":"BJ.1","p":406},{"s":13,"v":"BJ.1","p":270},{"s":14,"v":"BJ.1","p":310},{"s":15,"v":"BJ.1","p":206},{"s":16,"v":"BJ.1","p":236},{"s":17,"v":"BJ.1","p":157},{"s":18,"v":"BJ.1","p":180},{"s":19,"v":"BJ.1","p":119},{"s":20,"v":"BJ.1","p":137},{"s":21,"v":"BJ.1","p":91},{"s":22,"v":"BJ.1","p":104},{"s":23,"v":"BJ.1","p":79},
{"s":1,"v":"XBB","p":104},{"s":2,"v":"XBB","p":151},{"s":3,"v":"XBB","p":134},{"s":4,"v":"XBB","p":118},{"s":5,"v":"XBB","p":64},{"s":6,"v":"XBB","p":92},{"s":7,"v":"XBB","p":82},{"s":8,"v":"XBB","p":72},{"s":9,"v":"XBB","p":39},{"s":10,"v":"XBB","p":56},{"s":11,"v":"XBB","p":50},{"s":12,"v":"XBB","p":44},{"s":13,"v":"XBB","p":24},{"s":14,"v":"XBB","p":34},{"s":15,"v":"XBB","p":30},{"s":16,"v":"XBB","p":27},{"s":17,"v":"XBB","p":14},{"s":18,"v":"XBB","p":21},{"s":19,"v":"XBB","p":19},{"s":20,"v":"XBB","p":16},{"s":21,"v":"XBB","p":10},{"s":22,"v":"XBB","p":13},{"s":23,"v":"XBB","p":11}
],
"gC":[{"v":"Victoria","g":"2111"},{"v":"BA.1","g":"1657"},{"v":"BA.1.1","g":"1652"},{"v":"BA.2","g":"1477"},{"v":"BA.2.12.1","g":"1080"},{"v":"BA.4/5","g":"808"},{"v":"BA.4.6","g":"696"},{"v":"BA.2.75","g":"1090"},{"v":"BA.2.75.2","g":"195"},{"v":"BA.2.3.20","g":"304"},{"v":"BJ.1","g":"380"},{"v":"XBB","g":"33"}],
"bC":[
{"k":1,"from":"BA.4/5","to":"BA.2.75.2","label":"P<0.0001 (4.1x)"},{"k":2,"from":"BA.4/5","to":"BA.2.3.20","label":"P<0.0001 (2.7x)"},{"k":3,"from":"BA.4/5","to":"BJ.1","label":"P<0.0001 (2.1x)"},{"k":4,"from":"BA.4/5","to":"XBB","label":"P<0.0001 (24.5x)"},
{"k":5,"from":"BA.2","to":"BA.2.75.2","label":"P<0.0001 (7.6x)"},{"k":6,"from":"BA.2","to":"BA.2.3.20","label":"P<0.0001 (4.9x)"},{"k":7,"from":"BA.2","to":"BJ.1","label":"P<0.0001 (3.9x)"},{"k":8,"from":"BA.2","to":"XBB","label":"P<0.0001 (44.8x)"}
],
"pD":[
{"s":1,"v":"Victoria","p":6026},{"s":2,"v":"Victoria","p":5012},{"s":3,"v":"Victoria","p":4169},{"s":4,"v":"Victoria","p":3631},{"s":5,"v":"Victoria","p":3162},{"s":6,"v":"Victoria","p":2818},{"s":7,"v":"Victoria","p":2512},{"s":8,"v":"Victoria","p":2138},{"s":9,"v":"Victoria","p":1862},{"s":10,"v":"Victoria","p":1660},{"s":11,"v":"Victoria","p":186},
{"s":1,"v":"BA.1","p":3981},{"s":2,"v":"BA.1","p":4571},{"s":3,"v":"BA.1","p":3162},{"s":4,"v":"BA.1","p":3548},{"s":5,"v":"BA.1","p":2399},{"s":6,"v":"BA.1","p":2754},{"s":7,"v":"BA.1","p":1585},{"s":8,"v":"BA.1","p":1995},{"s":9,"v":"BA.1","p":955},{"s":10,"v":"BA.1","p":1122},{"s":11,"v":"BA.1","p":63},
{"s":1,"v":"BA.1.1","p":5370},{"s":2,"v":"BA.1.1","p":3981},{"s":3,"v":"BA.1.1","p":4786},{"s":4,"v":"BA.1.1","p":2818},{"s":5,"v":"BA.1.1","p":3311},{"s":6,"v":"BA.1.1","p":2138},{"s":7,"v":"BA.1.1","p":2512},{"s":8,"v":"BA.1.1","p":1122},{"s":9,"v":"BA.1.1","p":1585},{"s":10,"v":"BA.1.1","p":891},{"s":11,"v":"BA.1.1","p":10},
{"s":1,"v":"BA.2","p":4169},{"s":2,"v":"BA.2","p":4571},{"s":3,"v":"BA.2","p":3162},{"s":4,"v":"BA.2","p":3631},{"s":5,"v":"BA.2","p":2512},{"s":6,"v":"BA.2","p":2818},{"s":7,"v":"BA.2","p":1905},{"s":8,"v":"BA.2","p":2239},{"s":9,"v":"BA.2","p":1259},{"s":10,"v":"BA.2","p":1585},{"s":11,"v":"BA.2","p":525},
{"s":1,"v":"BA.2.12.1","p":4571},{"s":2,"v":"BA.2.12.1","p":3467},{"s":3,"v":"BA.2.12.1","p":3981},{"s":4,"v":"BA.2.12.1","p":2630},{"s":5,"v":"BA.2.12.1","p":3020},{"s":6,"v":"BA.2.12.1","p":2089},{"s":7,"v":"BA.2.12.1","p":2399},{"s":8,"v":"BA.2.12.1","p":1413},{"s":9,"v":"BA.2.12.1","p":1778},{"s":10,"v":"BA.2.12.1","p":1122},{"s":11,"v":"BA.2.12.1","p":646},
{"s":1,"v":"BA.4/5","p":3311},{"s":2,"v":"BA.4/5","p":3802},{"s":3,"v":"BA.4/5","p":2512},{"s":4,"v":"BA.4/5","p":2884},{"s":5,"v":"BA.4/5","p":1995},{"s":6,"v":"BA.4/5","p":2239},{"s":7,"v":"BA.4/5","p":1479},{"s":8,"v":"BA.4/5","p":1738},{"s":9,"v":"BA.4/5","p":1072},{"s":10,"v":"BA.4/5","p":1259},{"s":11,"v":"BA.4/5","p":479},
{"s":1,"v":"BA.4.6","p":4898},{"s":2,"v":"BA.4.6","p":4169},{"s":3,"v":"BA.4.6","p":3548},{"s":4,"v":"BA.4.6","p":3020},{"s":5,"v":"BA.4.6","p":2570},{"s":6,"v":"BA.4.6","p":2239},{"s":7,"v":"BA.4.6","p":1905},{"s":8,"v":"BA.4.6","p":1622},{"s":9,"v":"BA.4.6","p":1380},{"s":10,"v":"BA.4.6","p":1096},{"s":11,"v":"BA.4.6","p":891},
{"s":1,"v":"BA.2.75","p":4677},{"s":2,"v":"BA.2.75","p":3311},{"s":3,"v":"BA.2.75","p":3981},{"s":4,"v":"BA.2.75","p":2291},{"s":5,"v":"BA.2.75","p":2818},{"s":6,"v":"BA.2.75","p":1514},{"s":7,"v":"BA.2.75","p":1905},{"s":8,"v":"BA.2.75","p":891},{"s":9,"v":"BA.2.75","p":1122},{"s":10,"v":"BA.2.75","p":457},{"s":11,"v":"BA.2.75","p":62},
{"s":1,"v":"BA.2.75.2","p":1905},{"s":2,"v":"BA.2.75.2","p":2291},{"s":3,"v":"BA.2.75.2","p":1259},{"s":4,"v":"BA.2.75.2","p":1585},{"s":5,"v":"BA.2.75.2","p":759},{"s":6,"v":"BA.2.75.2","p":1000},{"s":7,"v":"BA.2.75.2","p":269},{"s":8,"v":"BA.2.75.2","p":562},{"s":9,"v":"BA.2.75.2","p":107},{"s":10,"v":"BA.2.75.2","p":186},{"s":11,"v":"BA.2.75.2","p":74},
{"s":1,"v":"BA.2.3.20","p":2344},{"s":2,"v":"BA.2.3.20","p":1660},{"s":3,"v":"BA.2.3.20","p":1995},{"s":4,"v":"BA.2.3.20","p":1148},{"s":5,"v":"BA.2.3.20","p":1380},{"s":6,"v":"BA.2.3.20","p":759},{"s":7,"v":"BA.2.3.20","p":955},{"s":8,"v":"BA.2.3.20","p":316},{"s":9,"v":"BA.2.3.20","p":380},{"s":10,"v":"BA.2.3.20","p":251},{"s":11,"v":"BA.2.3.20","p":120},
{"s":1,"v":"BA.2.10.4","p":6026},{"s":2,"v":"BA.2.10.4","p":4786},{"s":3,"v":"BA.2.10.4","p":3802},{"s":4,"v":"BA.2.10.4","p":3020},{"s":5,"v":"BA.2.10.4","p":2399},{"s":6,"v":"BA.2.10.4","p":1905},{"s":7,"v":"BA.2.10.4","p":1514},{"s":8,"v":"BA.2.10.4","p":1202},{"s":9,"v":"BA.2.10.4","p":912},{"s":10,"v":"BA.2.10.4","p":724},{"s":11,"v":"BA.2.10.4","p":316},
{"s":1,"v":"BN.1","p":2818},{"s":2,"v":"BN.1","p":3236},{"s":3,"v":"BN.1","p":1995},{"s":4,"v":"BN.1","p":2399},{"s":5,"v":"BN.1","p":1202},{"s":6,"v":"BN.1","p":1585},{"s":7,"v":"BN.1","p":562},{"s":8,"v":"BN.1","p":891},{"s":9,"v":"BN.1","p":240},{"s":10,"v":"BN.1","p":269},{"s":11,"v":"BN.1","p":10},
{"s":1,"v":"BJ.1","p":3981},{"s":2,"v":"BJ.1","p":2399},{"s":3,"v":"BJ.1","p":3162},{"s":4,"v":"BJ.1","p":1318},{"s":5,"v":"BJ.1","p":1778},{"s":6,"v":"BJ.1","p":759},{"s":7,"v":"BJ.1","p":1000},{"s":8,"v":"BJ.1","p":417},{"s":9,"v":"BJ.1","p":562},{"s":10,"v":"BJ.1","p":316},{"s":11,"v":"BJ.1","p":107},
{"s":1,"v":"BS.1","p":1778},{"s":2,"v":"BS.1","p":2138},{"s":3,"v":"BS.1","p":1122},{"s":4,"v":"BS.1","p":1413},{"s":5,"v":"BS.1","p":794},{"s":6,"v":"BS.1","p":955},{"s":7,"v":"BS.1","p":550},{"s":8,"v":"BS.1","p":661},{"s":9,"v":"BS.1","p":363},{"s":10,"v":"BS.1","p":447},{"s":11,"v":"BS.1","p":174},
{"s":1,"v":"BQ.1","p":3236},{"s":2,"v":"BQ.1","p":2630},{"s":3,"v":"BQ.1","p":2188},{"s":4,"v":"BQ.1","p":1820},{"s":5,"v":"BQ.1","p":1514},{"s":6,"v":"BQ.1","p":1259},{"s":7,"v":"BQ.1","p":1047},{"s":8,"v":"BQ.1","p":871},{"s":9,"v":"BQ.1","p":692},{"s":10,"v":"BQ.1","p":501},{"s":11,"v":"BQ.1","p":355},
{"s":1,"v":"BQ.1.1","p":3236},{"s":2,"v":"BQ.1.1","p":2239},{"s":3,"v":"BQ.1.1","p":2692},{"s":4,"v":"BQ.1.1","p":1413},{"s":5,"v":"BQ.1.1","p":1778},{"s":6,"v":"BQ.1.1","p":955},{"s":7,"v":"BQ.1.1","p":1148},{"s":8,"v":"BQ.1.1","p":631},{"s":9,"v":"BQ.1.1","p":794},{"s":10,"v":"BQ.1.1","p":501},{"s":11,"v":"BQ.1.1","p":398},
{"s":1,"v":"BF.7","p":4169},{"s":2,"v":"BF.7","p":4898},{"s":3,"v":"BF.7","p":3020},{"s":4,"v":"BF.7","p":3631},{"s":5,"v":"BF.7","p":2138},{"s":6,"v":"BF.7","p":2512},{"s":7,"v":"BF.7","p":1413},{"s":8,"v":"BF.7","p":1778},{"s":9,"v":"BF.7","p":912},{"s":10,"v":"BF.7","p":1122},{"s":11,"v":"BF.7","p":794},
{"s":1,"v":"XBB","p":331},{"s":2,"v":"XBB","p":224},{"s":3,"v":"XBB","p":282},{"s":4,"v":"XBB","p":166},{"s":5,"v":"XBB","p":200},{"s":6,"v":"XBB","p":89},{"s":7,"v":"XBB","p":132},{"s":8,"v":"XBB","p":28},{"s":9,"v":"XBB","p":66},{"s":10,"v":"XBB","p":23},{"s":11,"v":"XBB","p":19},
{"s":1,"v":"XBB.1","p":617},{"s":2,"v":"XBB.1","p":525},{"s":3,"v":"XBB.1","p":398},{"s":4,"v":"XBB.1","p":316},{"s":5,"v":"XBB.1","p":120},{"s":6,"v":"XBB.1","p":105},{"s":7,"v":"XBB.1","p":89},{"s":8,"v":"XBB.1","p":74},{"s":9,"v":"XBB.1","p":20},{"s":10,"v":"XBB.1","p":15},{"s":11,"v":"XBB.1","p":11}
],
"gD":[{"v":"Victoria","g":"2307"},{"v":"BA.1","g":"1744"},{"v":"BA.1.1","g":"1635"},{"v":"BA.2","g":"2305"},{"v":"BA.2.12.1","g":"2165"},{"v":"BA.4/5","g":"1859"},{"v":"BA.4.6","g":"2145"},{"v":"BA.2.75","g":"1413"},{"v":"BA.2.75.2","g":"505"},{"v":"BA.2.3.20","g":"683"},{"v":"BA.2.10.4","g":"1748"},{"v":"BN.1","g":"690"},{"v":"BJ.1","g":"860"},{"v":"BS.1","g":"707"},{"v":"BQ.1","g":"1187"},{"v":"BQ.1.1","g":"1136"},{"v":"BF.7","g":"2155"},{"v":"XBB","g":"100"},{"v":"XBB.1","g":"108"}],
"bD":[
{"k":1,"from":"BA.4/5","to":"BA.2.10.4","label":"P=0.9658 (1.1×)"},{"k":2,"from":"BA.4/5","to":"BN.1","label":"P=0.0010 (2.7×)"},{"k":3,"from":"BA.4/5","to":"BJ.1","label":"P=0.0039 (2.2×)"},{"k":4,"from":"BA.4/5","to":"BS.1","label":"P=0.0020 (2.6×)"},{"k":5,"from":"BA.4/5","to":"BQ.1","label":"P=0.0068 (1.6×)"},{"k":6,"from":"BA.4/5","to":"BQ.1.1","label":"P=0.0020 (1.6×)"},{"k":7,"from":"BA.4/5","to":"BF.7","label":"P=0.0830 (0.9×)"},{"k":8,"from":"BA.4/5","to":"XBB","label":"P=0.0010 (18.6×)"},{"k":9,"from":"BA.4/5","to":"XBB.1","label":"P=0.0010 (17.2×)"},
{"k":10,"from":"BA.2","to":"BA.2.10.4","label":"P=0.1475 (1.3×)"},{"k":11,"from":"BA.2","to":"BN.1","label":"P=0.0010 (3.3×)"},{"k":12,"from":"BA.2","to":"BJ.1","label":"P=0.0010 (2.7×)"},{"k":13,"from":"BA.2","to":"BS.1","label":"P=0.0020 (3.3×)"},{"k":14,"from":"BA.2","to":"BQ.1","label":"P=0.0020 (1.9×)"},{"k":15,"from":"BA.2","to":"BQ.1.1","label":"P=0.0020 (2×)"},{"k":16,"from":"BA.2","to":"BF.7","label":"P=0.1475 (1.1×)"},{"k":17,"from":"BA.2","to":"XBB","label":"P=0.0010 (23.1×)"},{"k":18,"from":"BA.2","to":"XBB.1","label":"P=0.0010 (21.3×)"}
]
},
"spacing":46,
"vconcat":[
{"spacing":36,"vconcat":[
{"spacing":51,"vconcat":[
{"title":{"text":"A","anchor":"start","frame":"bounds","fontSize":27,"offset":-27},
 "vconcat":[{
  "width":476,"height":364,
  "title":{"text":"BNT162b2 V3+28D (n=15)","fontSize":25,"anchor":"middle","frame":"group","offset":-2},
  "resolve":{"scale":{"x":"independent","y":"independent"}},
  "layer":[
   {"layer":[
     {"data":{"name":"pA"},"mark":{"type":"line","color":"#a3a3a3","strokeWidth":1},"encoding":{
       "x":{"field":"v","type":"nominal","scale":{"type":"point","domain":["Victoria","BA.1","BA.1.1","BA.2","BA.2.12.1","BA.4/5","BA.4.6","BA.2.75","BA.2.75.2","BA.2.3.20","BA.2.10.4","BN.1","BJ.1","BS.1","BQ.1","BQ.1.1","BF.7","XBB","XBB.1"],"padding":0.7},"axis":{"orient":"bottom","title":null,"labelAngle":-45,"labelFontSize":12,"labelPadding":2,"labelOverlap":false}},
       "y":{"field":"p","type":"quantitative","scale":{"type":"log","domain":[1,100000],"range":[364,214],"nice":false},"axis":{"orient":"left","title":"PVNT50 (Reciprocol plasma dilution)","titleFontSize":11,"titlePadding":3,"values":[1,10,100,1000,10000,100000],"labelExpr":"'10' + ['⁰','¹','²','³','⁴','⁵'][round(log(datum.value)/LN10)]","labelFontSize":12,"labelPadding":2}},
       "detail":{"field":"s","type":"nominal"},"order":{"value":null}}},
     {"data":{"name":"pA"},"mark":{"type":"circle","size":64,"opacity":1},"encoding":{
       "x":{"field":"v","type":"nominal","scale":{"type":"point","domain":["Victoria","BA.1","BA.1.1","BA.2","BA.2.12.1","BA.4/5","BA.4.6","BA.2.75","BA.2.75.2","BA.2.3.20","BA.2.10.4","BN.1","BJ.1","BS.1","BQ.1","BQ.1.1","BF.7","XBB","XBB.1"],"padding":0.7},"axis":{"orient":"bottom","title":null,"labelAngle":-45,"labelFontSize":12,"labelPadding":2,"labelOverlap":false}},
       "y":{"field":"p","type":"quantitative","scale":{"type":"log","domain":[1,100000],"range":[364,214],"nice":false},"axis":{"orient":"left","title":"PVNT50 (Reciprocol plasma dilution)","titleFontSize":11,"titlePadding":3,"values":[1,10,100,1000,10000,100000],"labelExpr":"'10' + ['⁰','¹','²','³','⁴','⁵'][round(log(datum.value)/LN10)]","labelFontSize":12,"labelPadding":2}},
       "color":{"field":"v","type":"nominal","legend":null,"scale":{"domain":["Victoria","BA.1","BA.1.1","BA.2","BA.2.12.1","BA.4/5","BA.4.6","BA.2.75","BA.2.75.2","BA.2.3.20","BA.2.10.4","BN.1","BJ.1","BS.1","BQ.1","BQ.1.1","BF.7","XBB","XBB.1"],"range":["#FF7F00","#000000","#F94FD6","#808080","#1596B0","#009966","#C4BE00","#A00000","#FF8080","#94621F","#D6ADAD","#91C4FA","#750C9E","#D4086C","#0000CC","#4D9EFF","#005F00","#DD88F2","#8A8AFF"]}}}}
   ]},
   {"data":{"name":"gA"},"mark":{"type":"text","fontSize":10,"fontWeight":"bold","baseline":"middle"},"encoding":{
     "x":{"field":"v","type":"nominal","scale":{"type":"point","domain":["Victoria","BA.1","BA.1.1","BA.2","BA.2.12.1","BA.4/5","BA.4.6","BA.2.75","BA.2.75.2","BA.2.3.20","BA.2.10.4","BN.1","BJ.1","BS.1","BQ.1","BQ.1.1","BF.7","XBB","XBB.1"],"padding":0.7},"axis":null},
     "y":{"datum":26300,"type":"quantitative","scale":{"type":"log","domain":[1,100000],"range":[364,214],"nice":false},"axis":null},
     "text":{"field":"g","type":"nominal"}}},
   {"data":{"name":"bA"},"layer":[
     {"mark":{"type":"rule","strokeWidth":1.3,"color":"#111"},"encoding":{
       "x":{"field":"from","type":"nominal","scale":{"type":"point","domain":["Victoria","BA.1","BA.1.1","BA.2","BA.2.12.1","BA.4/5","BA.4.6","BA.2.75","BA.2.75.2","BA.2.3.20","BA.2.10.4","BN.1","BJ.1","BS.1","BQ.1","BQ.1.1","BF.7","XBB","XBB.1"],"padding":0.7},"axis":null},"x2":{"field":"to"},
       "y":{"field":"k","type":"quantitative","scale":{"domain":[1,18],"range":[10.7,218]},"axis":null}}},
     {"mark":{"type":"tick","orient":"vertical","size":8,"thickness":1.3,"color":"#111"},"encoding":{
       "x":{"field":"from","type":"nominal","scale":{"type":"point","domain":["Victoria","BA.1","BA.1.1","BA.2","BA.2.12.1","BA.4/5","BA.4.6","BA.2.75","BA.2.75.2","BA.2.3.20","BA.2.10.4","BN.1","BJ.1","BS.1","BQ.1","BQ.1.1","BF.7","XBB","XBB.1"],"padding":0.7},"axis":null},
       "y":{"field":"k","type":"quantitative","scale":{"domain":[1,18],"range":[10.7,218]},"axis":null}}},
     {"mark":{"type":"tick","orient":"vertical","size":8,"thickness":1.3,"color":"#111"},"encoding":{
       "x":{"field":"to","type":"nominal","scale":{"type":"point","domain":["Victoria","BA.1","BA.1.1","BA.2","BA.2.12.1","BA.4/5","BA.4.6","BA.2.75","BA.2.75.2","BA.2.3.20","BA.2.10.4","BN.1","BJ.1","BS.1","BQ.1","BQ.1.1","BF.7","XBB","XBB.1"],"padding":0.7},"axis":null},
       "y":{"field":"k","type":"quantitative","scale":{"domain":[1,18],"range":[10.7,218]},"axis":null}}}
   ]},
   {"data":{"name":"bA"},"transform":[{"filter":{"field":"from","equal":"BA.4/5"}}],"mark":{"type":"text","fontSize":9,"baseline":"alphabetic","dy":-3},"encoding":{
     "x":{"field":"to","type":"nominal","scale":{"type":"point","domain":["Victoria","BA.1","BA.1.1","BA.2","BA.2.12.1","BA.4/5","BA.4.6","BA.2.75","BA.2.75.2","BA.2.3.20","BA.2.10.4","BN.1","BJ.1","BS.1","BQ.1","BQ.1.1","BF.7","XBB","XBB.1"],"padding":0.7,"range":[69.93,307.93]},"axis":null},
     "y":{"field":"k","type":"quantitative","scale":{"domain":[1,18],"range":[10.7,218]},"axis":null},
     "text":{"field":"label","type":"nominal"}}},
   {"data":{"name":"bA"},"transform":[{"filter":{"field":"from","equal":"BA.2"}}],"mark":{"type":"text","fontSize":9,"baseline":"alphabetic","dy":-3},"encoding":{
     "x":{"field":"to","type":"nominal","scale":{"type":"point","domain":["Victoria","BA.1","BA.1.1","BA.2","BA.2.12.1","BA.4/5","BA.4.6","BA.2.75","BA.2.75.2","BA.2.3.20","BA.2.10.4","BN.1","BJ.1","BS.1","BQ.1","BQ.1.1","BF.7","XBB","XBB.1"],"padding":0.7,"range":[45.39,283.39]},"axis":null},
     "y":{"field":"k","type":"quantitative","scale":{"domain":[1,18],"range":[10.7,218]},"axis":null},
     "text":{"field":"label","type":"nominal"}}}
  ]}]},
{"title":{"text":"B","anchor":"start","frame":"bounds","fontSize":25,"offset":-22},
 "vconcat":[{
  "width":607,"height":357,
  "title":{"text":"BA.1 infection (≥28D, n=9)","fontSize":28,"anchor":"middle","frame":"group","offset":27},
  "resolve":{"scale":{"x":"independent","y":"independent"}},
  "layer":[
   {"layer":[
     {"data":{"name":"pB"},"mark":{"type":"line","color":"#a3a3a3","strokeWidth":1},"encoding":{
       "x":{"field":"v","type":"nominal","scale":{"type":"point","domain":["Victoria","BA.1","BA.1.1","BA.2","BA.2.12.1","BA.4/5","BA.4.6","BA.2.75","BA.2.75.2","BA.2.3.20","BJ.1","XBB"],"padding":0.7},"axis":{"orient":"bottom","title":null,"labelAngle":-45,"labelFontSize":14,"labelPadding":2,"labelOverlap":false}},
       "y":{"field":"p","type":"quantitative","scale":{"type":"log","domain":[1,100000],"range":[357,163.5],"nice":false},"axis":{"orient":"left","title":"PVNT50 (Reciprocol plasma dilution)","titleFontSize":15,"titlePadding":13,"values":[1,10,100,1000,10000,100000],"labelExpr":"'10' + ['⁰','¹','²','³','⁴','⁵'][round(log(datum.value)/LN10)]","labelFontSize":15,"labelPadding":2}},
       "detail":{"field":"s","type":"nominal"},"order":{"value":null}}},
     {"data":{"name":"pB"},"mark":{"type":"circle","size":85,"opacity":1},"encoding":{
       "x":{"field":"v","type":"nominal","scale":{"type":"point","domain":["Victoria","BA.1","BA.1.1","BA.2","BA.2.12.1","BA.4/5","BA.4.6","BA.2.75","BA.2.75.2","BA.2.3.20","BJ.1","XBB"],"padding":0.7},"axis":{"orient":"bottom","title":null,"labelAngle":-45,"labelFontSize":14,"labelPadding":2,"labelOverlap":false}},
       "y":{"field":"p","type":"quantitative","scale":{"type":"log","domain":[1,100000],"range":[357,163.5],"nice":false},"axis":{"orient":"left","title":"PVNT50 (Reciprocol plasma dilution)","titleFontSize":15,"titlePadding":13,"values":[1,10,100,1000,10000,100000],"labelExpr":"'10' + ['⁰','¹','²','³','⁴','⁵'][round(log(datum.value)/LN10)]","labelFontSize":15,"labelPadding":2}},
       "color":{"field":"v","type":"nominal","legend":null,"scale":{"domain":["Victoria","BA.1","BA.1.1","BA.2","BA.2.12.1","BA.4/5","BA.4.6","BA.2.75","BA.2.75.2","BA.2.3.20","BA.2.10.4","BN.1","BJ.1","BS.1","BQ.1","BQ.1.1","BF.7","XBB","XBB.1"],"range":["#FF7F00","#2b2b2b","#F94FD6","#808080","#1596B0","#009966","#C4BE00","#A00000","#FF8080","#94621F","#D6ADAD","#91C4FA","#750C9E","#D4086C","#0000CC","#4D9EFF","#005F00","#DD88F2","#8A8AFF"]}}}}
   ]},
   {"data":{"name":"gB"},"mark":{"type":"text","fontSize":16.5,"fontWeight":"bold","baseline":"middle"},"encoding":{
     "x":{"field":"v","type":"nominal","scale":{"type":"point","domain":["Victoria","BA.1","BA.1.1","BA.2","BA.2.12.1","BA.4/5","BA.4.6","BA.2.75","BA.2.75.2","BA.2.3.20","BJ.1","XBB"],"padding":0.7},"axis":null},
     "y":{"datum":37000,"type":"quantitative","scale":{"type":"log","domain":[1,100000],"range":[357,163.5],"nice":false},"axis":null},
     "text":{"field":"g","type":"nominal"}}},
   {"data":{"name":"bB"},"layer":[
     {"mark":{"type":"rule","strokeWidth":2,"color":"#111"},"encoding":{
       "x":{"field":"from","type":"nominal","scale":{"type":"point","domain":["Victoria","BA.1","BA.1.1","BA.2","BA.2.12.1","BA.4/5","BA.4.6","BA.2.75","BA.2.75.2","BA.2.3.20","BJ.1","XBB"],"padding":0.7},"axis":null},"x2":{"field":"to"},
       "y":{"field":"k","type":"quantitative","scale":{"domain":[1,8],"range":[14.3,160]},"axis":null}}},
     {"mark":{"type":"tick","orient":"vertical","size":11,"thickness":2,"color":"#111"},"encoding":{
       "x":{"field":"from","type":"nominal","scale":{"type":"point","domain":["Victoria","BA.1","BA.1.1","BA.2","BA.2.12.1","BA.4/5","BA.4.6","BA.2.75","BA.2.75.2","BA.2.3.20","BJ.1","XBB"],"padding":0.7},"axis":null},
       "y":{"field":"k","type":"quantitative","scale":{"domain":[1,8],"range":[14.3,160]},"axis":null}}},
     {"mark":{"type":"tick","orient":"vertical","size":11,"thickness":2,"color":"#111"},"encoding":{
       "x":{"field":"to","type":"nominal","scale":{"type":"point","domain":["Victoria","BA.1","BA.1.1","BA.2","BA.2.12.1","BA.4/5","BA.4.6","BA.2.75","BA.2.75.2","BA.2.3.20","BJ.1","XBB"],"padding":0.7},"axis":null},
       "y":{"field":"k","type":"quantitative","scale":{"domain":[1,8],"range":[14.3,160]},"axis":null}}}
   ]},
   {"data":{"name":"bB"},"transform":[{"filter":{"field":"from","equal":"BA.4/5"}}],"mark":{"type":"text","fontSize":11,"baseline":"alphabetic","dy":-5},"encoding":{
     "x":{"field":"to","type":"nominal","scale":{"type":"point","domain":["Victoria","BA.1","BA.1.1","BA.2","BA.2.12.1","BA.4/5","BA.4.6","BA.2.75","BA.2.75.2","BA.2.3.20","BJ.1","XBB"],"padding":0.7,"range":[139.51,443.01]},"axis":null},
     "y":{"field":"k","type":"quantitative","scale":{"domain":[1,8],"range":[14.3,160]},"axis":null},
     "text":{"field":"label","type":"nominal"}}},
   {"data":{"name":"bB"},"transform":[{"filter":{"field":"from","equal":"BA.2"}}],"mark":{"type":"text","fontSize":11,"baseline":"alphabetic","dy":-5},"encoding":{
     "x":{"field":"to","type":"nominal","scale":{"type":"point","domain":["Victoria","BA.1","BA.1.1","BA.2","BA.2.12.1","BA.4/5","BA.4.6","BA.2.75","BA.2.75.2","BA.2.3.20","BJ.1","XBB"],"padding":0.7,"range":[90.56,394.06]},"axis":null},
     "y":{"field":"k","type":"quantitative","scale":{"domain":[1,8],"range":[14.3,160]},"axis":null},
     "text":{"field":"label","type":"nominal"}}}
  ]}]}
]},
{"title":{"text":"C","anchor":"start","frame":"bounds","fontSize":26,"offset":-53},
 "vconcat":[{
  "width":607,"height":340,
  "title":{"text":"BA.2 infection (n=23)","fontSize":28.5,"anchor":"middle","frame":"group","offset":6},
  "resolve":{"scale":{"x":"independent","y":"independent"}},
  "layer":[
   {"layer":[
     {"data":{"name":"pC"},"mark":{"type":"line","color":"#a3a3a3","strokeWidth":1},"encoding":{
       "x":{"field":"v","type":"nominal","scale":{"type":"point","domain":["Victoria","BA.1","BA.1.1","BA.2","BA.2.12.1","BA.4/5","BA.4.6","BA.2.75","BA.2.75.2","BA.2.3.20","BJ.1","XBB"],"padding":0.7},"axis":{"orient":"bottom","title":null,"labelAngle":-45,"labelFontSize":14,"labelPadding":2,"labelOverlap":false}},
       "y":{"field":"p","type":"quantitative","scale":{"type":"log","domain":[1,100000],"range":[340,148],"nice":false},"axis":{"orient":"left","title":"PVNT50 (Reciprocol plasma dilution)","titleFontSize":15,"titlePadding":13,"values":[1,10,100,1000,10000,100000],"labelExpr":"'10' + ['⁰','¹','²','³','⁴','⁵'][round(log(datum.value)/LN10)]","labelFontSize":15,"labelPadding":2}},
       "detail":{"field":"s","type":"nominal"},"order":{"value":null}}},
     {"data":{"name":"pC"},"mark":{"type":"circle","size":85,"opacity":1},"encoding":{
       "x":{"field":"v","type":"nominal","scale":{"type":"point","domain":["Victoria","BA.1","BA.1.1","BA.2","BA.2.12.1","BA.4/5","BA.4.6","BA.2.75","BA.2.75.2","BA.2.3.20","BJ.1","XBB"],"padding":0.7},"axis":{"orient":"bottom","title":null,"labelAngle":-45,"labelFontSize":14,"labelPadding":2,"labelOverlap":false}},
       "y":{"field":"p","type":"quantitative","scale":{"type":"log","domain":[1,100000],"range":[340,148],"nice":false},"axis":{"orient":"left","title":"PVNT50 (Reciprocol plasma dilution)","titleFontSize":15,"titlePadding":13,"values":[1,10,100,1000,10000,100000],"labelExpr":"'10' + ['⁰','¹','²','³','⁴','⁵'][round(log(datum.value)/LN10)]","labelFontSize":15,"labelPadding":2}},
       "color":{"field":"v","type":"nominal","legend":null,"scale":{"domain":["Victoria","BA.1","BA.1.1","BA.2","BA.2.12.1","BA.4/5","BA.4.6","BA.2.75","BA.2.75.2","BA.2.3.20","BA.2.10.4","BN.1","BJ.1","BS.1","BQ.1","BQ.1.1","BF.7","XBB","XBB.1"],"range":["#FF7F00","#000000","#F94FD6","#808080","#1596B0","#009966","#C4BE00","#A00000","#FF8080","#94621F","#D6ADAD","#91C4FA","#750C9E","#D4086C","#0000CC","#4D9EFF","#005F00","#DD88F2","#8A8AFF"]}}}}
   ]},
   {"data":{"name":"gC"},"mark":{"type":"text","fontSize":16.5,"fontWeight":"bold","baseline":"middle"},"encoding":{
     "x":{"field":"v","type":"nominal","scale":{"type":"point","domain":["Victoria","BA.1","BA.1.1","BA.2","BA.2.12.1","BA.4/5","BA.4.6","BA.2.75","BA.2.75.2","BA.2.3.20","BJ.1","XBB"],"padding":0.7},"axis":null},
     "y":{"datum":18200,"type":"quantitative","scale":{"type":"log","domain":[1,100000],"range":[340,148],"nice":false},"axis":null},
     "text":{"field":"g","type":"nominal"}}},
   {"data":{"name":"bC"},"layer":[
     {"mark":{"type":"rule","strokeWidth":2,"color":"#111"},"encoding":{
       "x":{"field":"from","type":"nominal","scale":{"type":"point","domain":["Victoria","BA.1","BA.1.1","BA.2","BA.2.12.1","BA.4/5","BA.4.6","BA.2.75","BA.2.75.2","BA.2.3.20","BJ.1","XBB"],"padding":0.7},"axis":null},"x2":{"field":"to"},
       "y":{"field":"k","type":"quantitative","scale":{"domain":[1,8],"range":[14.7,157]},"axis":null}}},
     {"mark":{"type":"tick","orient":"vertical","size":11,"thickness":2,"color":"#111"},"encoding":{
       "x":{"field":"from","type":"nominal","scale":{"type":"point","domain":["Victoria","BA.1","BA.1.1","BA.2","BA.2.12.1","BA.4/5","BA.4.6","BA.2.75","BA.2.75.2","BA.2.3.20","BJ.1","XBB"],"padding":0.7},"axis":null},
       "y":{"field":"k","type":"quantitative","scale":{"domain":[1,8],"range":[14.7,157]},"axis":null}}},
     {"mark":{"type":"tick","orient":"vertical","size":11,"thickness":2,"color":"#111"},"encoding":{
       "x":{"field":"to","type":"nominal","scale":{"type":"point","domain":["Victoria","BA.1","BA.1.1","BA.2","BA.2.12.1","BA.4/5","BA.4.6","BA.2.75","BA.2.75.2","BA.2.3.20","BJ.1","XBB"],"padding":0.7},"axis":null},
       "y":{"field":"k","type":"quantitative","scale":{"domain":[1,8],"range":[14.7,157]},"axis":null}}}
   ]},
   {"data":{"name":"bC"},"transform":[{"filter":{"field":"from","equal":"BA.4/5"}}],"mark":{"type":"text","fontSize":11,"baseline":"alphabetic","dy":-5},"encoding":{
     "x":{"field":"to","type":"nominal","scale":{"type":"point","domain":["Victoria","BA.1","BA.1.1","BA.2","BA.2.12.1","BA.4/5","BA.4.6","BA.2.75","BA.2.75.2","BA.2.3.20","BJ.1","XBB"],"padding":0.7,"range":[139.51,443.01]},"axis":null},
     "y":{"field":"k","type":"quantitative","scale":{"domain":[1,8],"range":[14.7,157]},"axis":null},
     "text":{"field":"label","type":"nominal"}}},
   {"data":{"name":"bC"},"transform":[{"filter":{"field":"from","equal":"BA.2"}}],"mark":{"type":"text","fontSize":11,"baseline":"alphabetic","dy":-5},"encoding":{
     "x":{"field":"to","type":"nominal","scale":{"type":"point","domain":["Victoria","BA.1","BA.1.1","BA.2","BA.2.12.1","BA.4/5","BA.4.6","BA.2.75","BA.2.75.2","BA.2.3.20","BJ.1","XBB"],"padding":0.7,"range":[90.56,394.06]},"axis":null},
     "y":{"field":"k","type":"quantitative","scale":{"domain":[1,8],"range":[14.7,157]},"axis":null},
     "text":{"field":"label","type":"nominal"}}}
  ]}]}
]},
{"title":{"text":"D","anchor":"start","frame":"bounds","fontSize":26,"offset":-20.5},
 "vconcat":[{
  "width":589,"height":474,
  "title":{"text":"BA.4/5 infection (n=11)","fontSize":33,"anchor":"middle","frame":"group","offset":4.4},
  "resolve":{"scale":{"x":"independent","y":"independent"}},
  "layer":[
   {"layer":[
     {"data":{"name":"pD"},"mark":{"type":"line","color":"#a3a3a3","strokeWidth":1},"encoding":{
       "x":{"field":"v","type":"nominal","scale":{"type":"point","domain":["Victoria","BA.1","BA.1.1","BA.2","BA.2.12.1","BA.4/5","BA.4.6","BA.2.75","BA.2.75.2","BA.2.3.20","BA.2.10.4","BN.1","BJ.1","BS.1","BQ.1","BQ.1.1","BF.7","XBB","XBB.1"],"padding":0.7},"axis":{"orient":"bottom","title":null,"labelAngle":-45,"labelFontSize":13.5,"labelPadding":2,"labelOverlap":false}},
       "y":{"field":"p","type":"quantitative","scale":{"type":"log","domain":[1,100000],"range":[474,288.5],"nice":false},"axis":{"orient":"left","title":"PVNT50 (Reciprocol plasma dilution)","titleFontSize":14,"titlePadding":17,"values":[1,10,100,1000,10000,100000],"labelExpr":"'10' + ['⁰','¹','²','³','⁴','⁵'][round(log(datum.value)/LN10)]","labelFontSize":15,"labelPadding":2}},
       "detail":{"field":"s","type":"nominal"},"order":{"value":null}}},
     {"data":{"name":"pD"},"mark":{"type":"circle","size":80,"opacity":1},"encoding":{
       "x":{"field":"v","type":"nominal","scale":{"type":"point","domain":["Victoria","BA.1","BA.1.1","BA.2","BA.2.12.1","BA.4/5","BA.4.6","BA.2.75","BA.2.75.2","BA.2.3.20","BA.2.10.4","BN.1","BJ.1","BS.1","BQ.1","BQ.1.1","BF.7","XBB","XBB.1"],"padding":0.7},"axis":{"orient":"bottom","title":null,"labelAngle":-45,"labelFontSize":13.5,"labelPadding":2,"labelOverlap":false}},
       "y":{"field":"p","type":"quantitative","scale":{"type":"log","domain":[1,100000],"range":[474,288.5],"nice":false},"axis":{"orient":"left","title":"PVNT50 (Reciprocol plasma dilution)","titleFontSize":14,"titlePadding":17,"values":[1,10,100,1000,10000,100000],"labelExpr":"'10' + ['⁰','¹','²','³','⁴','⁵'][round(log(datum.value)/LN10)]","labelFontSize":15,"labelPadding":2}},
       "color":{"field":"v","type":"nominal","legend":null,"scale":{"domain":["Victoria","BA.1","BA.1.1","BA.2","BA.2.12.1","BA.4/5","BA.4.6","BA.2.75","BA.2.75.2","BA.2.3.20","BA.2.10.4","BN.1","BJ.1","BS.1","BQ.1","BQ.1.1","BF.7","XBB","XBB.1"],"range":["#FF7F00","#000000","#F94FD6","#808080","#1596B0","#009966","#C4BE00","#A00000","#FF8080","#94621F","#D6ADAD","#91C4FA","#750C9E","#D4086C","#0000CC","#4D9EFF","#005F00","#DD88F2","#8A8AFF"]}}}}
   ]},
   {"data":{"name":"gD"},"mark":{"type":"text","fontSize":11.5,"fontWeight":"bold","baseline":"middle"},"encoding":{
     "x":{"field":"v","type":"nominal","scale":{"type":"point","domain":["Victoria","BA.1","BA.1.1","BA.2","BA.2.12.1","BA.4/5","BA.4.6","BA.2.75","BA.2.75.2","BA.2.3.20","BA.2.10.4","BN.1","BJ.1","BS.1","BQ.1","BQ.1.1","BF.7","XBB","XBB.1"],"padding":0.7},"axis":null},
     "y":{"datum":26900,"type":"quantitative","scale":{"type":"log","domain":[1,100000],"range":[474,288.5],"nice":false},"axis":null},
     "text":{"field":"g","type":"nominal"}}},
   {"data":{"name":"bD"},"layer":[
     {"mark":{"type":"rule","strokeWidth":1.8,"color":"#111"},"encoding":{
       "x":{"field":"from","type":"nominal","scale":{"type":"point","domain":["Victoria","BA.1","BA.1.1","BA.2","BA.2.12.1","BA.4/5","BA.4.6","BA.2.75","BA.2.75.2","BA.2.3.20","BA.2.10.4","BN.1","BJ.1","BS.1","BQ.1","BQ.1.1","BF.7","XBB","XBB.1"],"padding":0.7},"axis":null},"x2":{"field":"to"},
       "y":{"field":"k","type":"quantitative","scale":{"domain":[1,18],"range":[14.3,296]},"axis":null}}},
     {"mark":{"type":"tick","orient":"vertical","size":10,"thickness":1.8,"color":"#111"},"encoding":{
       "x":{"field":"from","type":"nominal","scale":{"type":"point","domain":["Victoria","BA.1","BA.1.1","BA.2","BA.2.12.1","BA.4/5","BA.4.6","BA.2.75","BA.2.75.2","BA.2.3.20","BA.2.10.4","BN.1","BJ.1","BS.1","BQ.1","BQ.1.1","BF.7","XBB","XBB.1"],"padding":0.7},"axis":null},
       "y":{"field":"k","type":"quantitative","scale":{"domain":[1,18],"range":[14.3,296]},"axis":null}}},
     {"mark":{"type":"tick","orient":"vertical","size":10,"thickness":1.8,"color":"#111"},"encoding":{
       "x":{"field":"to","type":"nominal","scale":{"type":"point","domain":["Victoria","BA.1","BA.1.1","BA.2","BA.2.12.1","BA.4/5","BA.4.6","BA.2.75","BA.2.75.2","BA.2.3.20","BA.2.10.4","BN.1","BJ.1","BS.1","BQ.1","BQ.1.1","BF.7","XBB","XBB.1"],"padding":0.7},"axis":null},
       "y":{"field":"k","type":"quantitative","scale":{"domain":[1,18],"range":[14.3,296]},"axis":null}}}
   ]},
   {"data":{"name":"bD"},"transform":[{"filter":{"field":"from","equal":"BA.4/5"}}],"mark":{"type":"text","fontSize":10.5,"baseline":"alphabetic","dy":-5},"encoding":{
     "x":{"field":"to","type":"nominal","scale":{"type":"point","domain":["Victoria","BA.1","BA.1.1","BA.2","BA.2.12.1","BA.4/5","BA.4.6","BA.2.75","BA.2.75.2","BA.2.3.20","BA.2.10.4","BN.1","BJ.1","BS.1","BQ.1","BQ.1.1","BF.7","XBB","XBB.1"],"padding":0.7,"range":[86.53,381.03]},"axis":null},
     "y":{"field":"k","type":"quantitative","scale":{"domain":[1,18],"range":[14.3,296]},"axis":null},
     "text":{"field":"label","type":"nominal"}}},
   {"data":{"name":"bD"},"transform":[{"filter":{"field":"from","equal":"BA.2"}}],"mark":{"type":"text","fontSize":10.5,"baseline":"alphabetic","dy":-5},"encoding":{
     "x":{"field":"to","type":"nominal","scale":{"type":"point","domain":["Victoria","BA.1","BA.1.1","BA.2","BA.2.12.1","BA.4/5","BA.4.6","BA.2.75","BA.2.75.2","BA.2.3.20","BA.2.10.4","BN.1","BJ.1","BS.1","BQ.1","BQ.1.1","BF.7","XBB","XBB.1"],"padding":0.7,"range":[56.17,350.67]},"axis":null},
     "y":{"field":"k","type":"quantitative","scale":{"domain":[1,18],"range":[14.3,296]},"axis":null},
     "text":{"field":"label","type":"nominal"}}}
  ]}]}
]
}
